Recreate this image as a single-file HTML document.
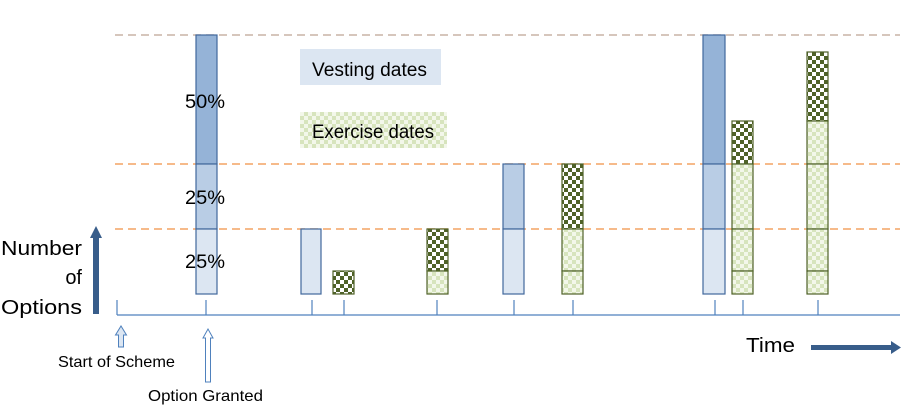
<!DOCTYPE html>
<html><head><meta charset="utf-8"><style>
html,body{margin:0;padding:0;background:#fff;width:904px;height:412px;overflow:hidden}
svg{display:block}
text{font-family:"Liberation Sans","DejaVu Sans",sans-serif;fill:#000}
</style></head><body>
<svg width="904" height="412" viewBox="0 0 904 412" xmlns="http://www.w3.org/2000/svg">
<defs>
<pattern id="dk" width="8" height="8" patternUnits="userSpaceOnUse">
<rect width="8" height="8" fill="#fff"/><rect width="4" height="4" fill="#4f6228"/><rect x="4" y="4" width="4" height="4" fill="#4f6228"/>
</pattern>
<pattern id="lt" width="8" height="8" patternUnits="userSpaceOnUse">
<rect width="8" height="8" fill="#f3f7ea"/><rect width="4" height="4" fill="#d7e4bd"/><rect x="4" y="4" width="4" height="4" fill="#d7e4bd"/>
</pattern>
</defs>
<g stroke="#f4a464" stroke-width="1.5" stroke-dasharray="8,5">
<line x1="115" y1="35" x2="900" y2="35" stroke="#c9b3a5"/>
<line x1="115" y1="164" x2="900" y2="164"/>
<line x1="115" y1="229" x2="900" y2="229"/>
</g>
<g stroke="#4f81bd" stroke-width="1.2">
<line x1="117" y1="315" x2="900" y2="315"/>
<line x1="117" y1="300" x2="117" y2="315"/><line x1="206" y1="300" x2="206" y2="315"/>
<line x1="312" y1="300" x2="312" y2="315"/><line x1="344" y1="300" x2="344" y2="315"/>
<line x1="437" y1="300" x2="437" y2="315"/><line x1="514" y1="300" x2="514" y2="315"/>
<line x1="573" y1="300" x2="573" y2="315"/><line x1="715" y1="300" x2="715" y2="315"/>
<line x1="743" y1="300" x2="743" y2="315"/><line x1="818" y1="300" x2="818" y2="315"/>
</g>
<g stroke="#41689c" stroke-width="1.2">
<rect x="196" y="35" width="21" height="129" fill="#95b3d7"/>
<rect x="196" y="164" width="21" height="65" fill="#b9cde5"/>
<rect x="196" y="229" width="21" height="65" fill="#dce6f2"/>
<rect x="301" y="229" width="20" height="65" fill="#dce6f2"/>
<rect x="503" y="164" width="21" height="65" fill="#b9cde5"/>
<rect x="503" y="229" width="21" height="65" fill="#dce6f2"/>
<rect x="703" y="35" width="22" height="129" fill="#95b3d7"/>
<rect x="703" y="164" width="22" height="65" fill="#b9cde5"/>
<rect x="703" y="229" width="22" height="65" fill="#dce6f2"/>
</g>
<g stroke="#4f6228" stroke-width="1.2">
<rect x="333" y="271" width="21" height="23" fill="url(#dk)"/>
<rect x="427" y="229" width="21" height="42" fill="url(#dk)"/>
<rect x="427" y="271" width="21" height="23" fill="url(#lt)"/>
<rect x="562" y="164" width="21" height="65" fill="url(#dk)"/>
<rect x="562" y="229" width="21" height="42" fill="url(#lt)"/>
<rect x="562" y="271" width="21" height="23" fill="url(#lt)"/>
<rect x="732" y="121" width="21" height="43" fill="url(#dk)"/>
<rect x="732" y="164" width="21" height="65" fill="url(#lt)"/>
<rect x="732" y="229" width="21" height="42" fill="url(#lt)"/>
<rect x="732" y="271" width="21" height="23" fill="url(#lt)"/>
<rect x="807" y="52" width="21" height="69" fill="url(#dk)"/>
<rect x="807" y="121" width="21" height="43" fill="url(#lt)"/>
<rect x="807" y="164" width="21" height="65" fill="url(#lt)"/>
<rect x="807" y="229" width="21" height="42" fill="url(#lt)"/>
<rect x="807" y="271" width="21" height="23" fill="url(#lt)"/>
</g>
<rect x="300" y="49" width="141" height="36" fill="#dce6f2"/>
<text x="312" y="76" font-size="19" textLength="115" lengthAdjust="spacingAndGlyphs">Vesting dates</text>
<rect x="300" y="112" width="147" height="36" fill="url(#lt)"/>
<text x="312" y="138" font-size="19" textLength="122" lengthAdjust="spacingAndGlyphs">Exercise dates</text>
<text x="185" y="108" font-size="19" textLength="40" lengthAdjust="spacingAndGlyphs">50%</text>
<text x="185" y="204" font-size="19" textLength="40" lengthAdjust="spacingAndGlyphs">25%</text>
<text x="185" y="268" font-size="19" textLength="40" lengthAdjust="spacingAndGlyphs">25%</text>
<text x="1" y="255" font-size="20" textLength="81" lengthAdjust="spacingAndGlyphs">Number</text>
<text x="82" y="284" font-size="20" text-anchor="end">of</text>
<text x="1" y="314" font-size="20" textLength="81" lengthAdjust="spacingAndGlyphs">Options</text>
<rect x="93" y="236" width="6" height="78" fill="#385d8a"/>
<polygon points="90,238 96,226 102,238" fill="#385d8a"/>
<polygon points="118.5,335 115.5,335 121,326 126.5,335 123.5,335 123.5,347 118.5,347" fill="#dce6f2" stroke="#4f81bd" stroke-width="1"/>
<polygon points="205.5,338 203,338 208,329 213,338 210.5,338 210.5,382 205.5,382" fill="#fff" stroke="#4f81bd" stroke-width="1"/>
<text x="58" y="367" font-size="16" textLength="117" lengthAdjust="spacingAndGlyphs">Start of Scheme</text>
<text x="148" y="401" font-size="16" textLength="115" lengthAdjust="spacingAndGlyphs">Option Granted</text>
<text x="746" y="352" font-size="20" textLength="49" lengthAdjust="spacingAndGlyphs">Time</text>
<rect x="811" y="345" width="82" height="5" fill="#385d8a"/>
<polygon points="891,341 901,347.5 891,354" fill="#385d8a"/>
</svg>
</body></html>
